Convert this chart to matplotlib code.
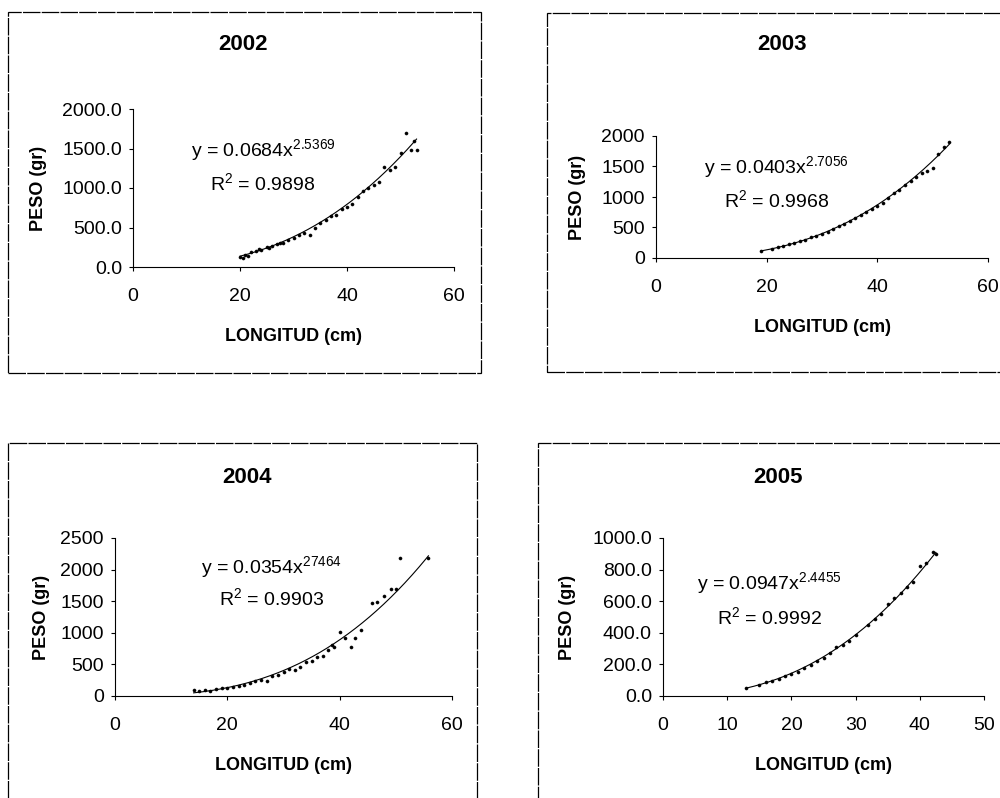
import matplotlib
matplotlib.use('Agg')
import numpy as np
import matplotlib.pyplot as plt
from matplotlib.patches import Rectangle

plt.rcParams['font.family'] = ['Liberation Sans', 'DejaVu Sans']
plt.rcParams['mathtext.default'] = 'regular'

W, H = 1000, 798

# data: length (cm) vs weight (gr) per year
years = ['2002', '2003', '2004', '2005']

x2002 = [20, 20.5, 21, 21.5, 22, 23, 23.5, 24, 25, 25.5, 26, 27, 27.5, 28, 29, 30, 31, 32, 33, 34,
         35, 36, 37, 38, 39, 40, 41, 42, 43, 44, 45, 46, 47, 48, 49, 50, 51, 52, 52.5, 53]
y2002 = [130, 110, 150, 140, 190, 200, 230, 215, 255, 245, 270, 290, 300, 310, 345, 370, 400, 430, 410, 500,
         560, 590, 640, 660, 730, 760, 800, 880, 960, 1000, 1040, 1070, 1270, 1230, 1260, 1440, 1690, 1480, 1590, 1480]

x2003 = [19, 21, 22, 23, 24, 25, 26, 27, 28, 29, 30, 31, 32, 33, 34, 35, 36, 37, 38, 39,
         40, 41, 42, 43, 44, 45, 46, 47, 48, 49, 50, 51, 52, 53]
y2003 = [120, 150, 180, 190, 225, 240, 280, 290, 340, 360, 395, 430, 470, 520, 555, 600, 660, 700, 750, 800,
         860, 900, 990, 1060, 1120, 1190, 1260, 1330, 1400, 1430, 1480, 1700, 1820, 1900]

x2004 = [14, 15, 16, 17, 18, 19, 20, 21, 22, 23, 24, 25, 26, 27, 28, 29, 30, 31, 32, 33,
         34, 35, 36, 37, 38, 38.6, 39, 40, 41, 42, 42.7, 43.8, 45.7, 46.6, 47.9, 49.1, 50, 50.7, 55.8]
y2004 = [90, 75, 90, 80, 105, 120, 125, 150, 160, 180, 210, 230, 260, 240, 320, 330, 380, 420, 410, 460,
         540, 560, 610, 640, 720, 810, 780, 1010, 920, 780, 910, 1050, 1470, 1490, 1580, 1700, 1690, 2180, 2180]

x2005 = [13, 15, 16, 17, 18, 19, 20, 21, 22, 23, 24, 25, 26, 27, 28, 29, 30, 32, 33, 34,
         35, 36, 37, 38, 39, 40, 41, 42, 42.5]
y2005 = [50, 70, 90, 95, 110, 125, 140, 150, 180, 195, 220, 240, 270, 310, 320, 345, 385, 450, 490, 520,
         580, 620, 650, 690, 720, 820, 840, 910, 900]

# power trendline coefficients shown on the chart (y = a * x^b)
coef_a = [0.0684, 0.0403, 0.0354, 0.0947]
coef_b = [2.5369, 2.7056, 2.7464, 2.4455]
eq_labels = [r'y = 0.0684x$^{2.5369}$', r'y = 0.0403x$^{2.7056}$',
             r'y = 0.0354x$^{27464}$', r'y = 0.0947x$^{2.4455}$']
r2_labels = [r'R$^{2}$ = 0.9898', r'R$^{2}$ = 0.9968', r'R$^{2}$ = 0.9903', r'R$^{2}$ = 0.9992']

x_ticks = [[0, 20, 40, 60], [0, 20, 40, 60], [0, 20, 40, 60], [0, 10, 20, 30, 40, 50]]
y_ticks = [[0, 500, 1000, 1500, 2000], [0, 500, 1000, 1500, 2000],
           [0, 500, 1000, 1500, 2000, 2500], [0, 200, 400, 600, 800, 1000]]
y_fmt = ['%.1f', '%d', '%d', '%.1f']

# '#' layout in pixels: (left, right, top, bottom) of each plot area
axes_px = [(133, 454, 109, 267), (656, 988, 136, 258), (115, 452, 538, 696), (663, 984, 538, 696)]
box_px = [(8, 481, 12, 373), (547, 1003, 13, 372), (8, 477, 443, 803), (538, 1003, 443, 803)]
title_px = [(243, 45), (782, 45), (247, 477), (778, 477)]
eq_px = [(263, 150), (776, 167), (272, 567), (769, 583)]
r2_px = [(263, 183), (777, 200), (272, 598), (770, 617)]
ylab_px = [38, 577, 42, 567]


def fx(px):
    return px / W


def fy(py):
    return 1 - py / H


def draw_panel(fig, i, xs, ys):
    l, r, t, b = axes_px[i]
    ax = fig.add_axes([fx(l), fy(b), (r - l) / W, (b - t) / H])

    # '#' scatter of the measured fish
    ax.plot(xs, ys, 'o', color='black', ms=2.2, mec='black', mew=0.4, clip_on=False)

    # '#' power trendline
    xt = np.linspace(min(xs), max(xs), 200)
    ax.plot(xt, coef_a[i] * xt ** coef_b[i], color='black', lw=0.8, clip_on=False)

    ax.set_xlim(x_ticks[i][0], x_ticks[i][-1])
    ax.set_ylim(y_ticks[i][0], y_ticks[i][-1])
    ax.set_xticks(x_ticks[i])
    ax.set_yticks(y_ticks[i])
    ax.set_yticklabels([y_fmt[i] % v for v in y_ticks[i]])

    for s in ['top', 'right']:
        ax.spines[s].set_visible(False)
    for s in ['left', 'bottom']:
        ax.spines[s].set_linewidth(0.8)
        ax.spines[s].set_color('black')
    ax.tick_params(axis='both', direction='out', length=3, width=0.8, labelsize=14, colors='black')
    ax.tick_params(axis='x', pad=12)
    ax.tick_params(axis='y', pad=5)

    w = r - l
    h = b - t
    ax.set_xlabel('LONGITUD (cm)', fontsize=13, fontweight='bold')
    ax.xaxis.set_label_coords(0.5, -70 / h)
    ax.xaxis.label.set_va('center')
    ax.set_ylabel('PESO (gr)', fontsize=13, fontweight='bold')
    ax.yaxis.set_label_coords(-(l - ylab_px[i]) / w, 0.5)
    ax.yaxis.label.set_va('center')

    fig.text(fx(title_px[i][0]), fy(title_px[i][1]), years[i], fontsize=16,
             fontweight='bold', ha='center', va='center')
    fig.text(fx(eq_px[i][0]), fy(eq_px[i][1]), eq_labels[i], fontsize=14, ha='center', va='center')
    fig.text(fx(r2_px[i][0]), fy(r2_px[i][1]), r2_labels[i], fontsize=14, ha='center', va='center')

    # '#' frame around the chart
    bl, br, bt, bb = box_px[i]
    fig.add_artist(Rectangle((fx(bl), fy(bb)), (br - bl) / W, (bb - bt) / H,
                             transform=fig.transFigure, fill=False, ec='black',
                             lw=0.9, ls=(0, (14, 1))))
    return ax


def main_plot():
    fig = plt.figure(figsize=(10, 7.98), dpi=100)
    data = [(x2002, y2002), (x2003, y2003), (x2004, y2004), (x2005, y2005)]
    for i, (xs, ys) in enumerate(data):
        draw_panel(fig, i, xs, ys)
    fig.savefig('out.png', dpi=100)


if __name__ == '__main__':
    main_plot()
